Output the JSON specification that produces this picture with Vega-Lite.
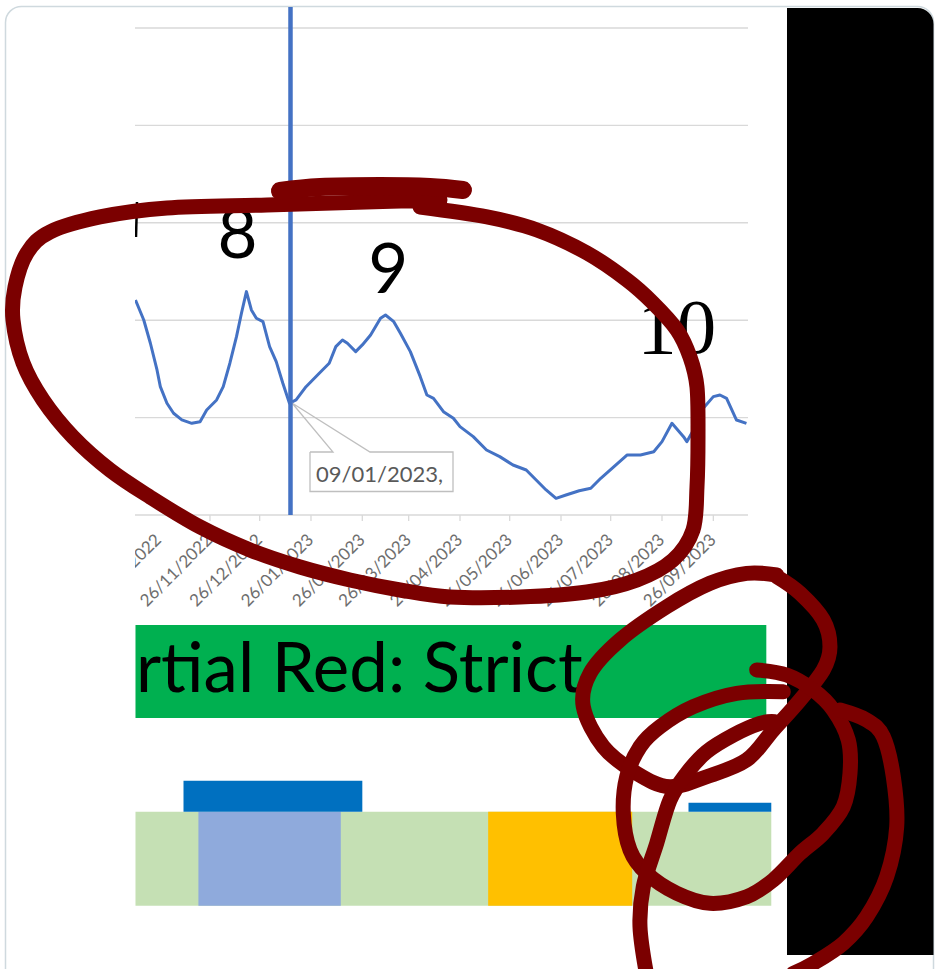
{
"$schema": "https://vega.github.io/schema/vega-lite/v6.json",
"width": 935, "height": 969, "padding": 0, "autosize": {"type": "none"},
"background": "white",
"config": {"view": {"stroke": null}},
"resolve": {"scale": {"x": "independent"}},
"layer": [
 {"layer": [
  {"data": {"values": [{"x0": -123.51, "x1": 436.98, "y0": 5.221, "y1": -5.082}]},
   "mark": {"type": "rect", "fill": "white", "stroke": "#cfd9de", "strokeWidth": 1.5, "cornerRadius": 16},
   "encoding": {"x": {"field": "x0", "type": "quantitative", "scale": {"domain": [-126.83, 437.88], "nice": false, "zero": false}, "axis": null},
     "x2": {"field": "x1"},
     "y": {"field": "y0", "type": "quantitative", "scale": {"domain": [-4.661, 5.287], "nice": false, "zero": false}, "axis": null},
     "y2": {"field": "y1"}}},
  {"data": {"values": [{"x0": 348.49, "x1": 436.98, "y0": 5.205, "y1": -4.517}]},
   "mark": {"type": "rect", "fill": "black", "cornerRadiusTopRight": 16},
   "encoding": {"x": {"field": "x0", "type": "quantitative", "scale": {"domain": [-126.83, 437.88], "nice": false, "zero": false}, "axis": null},
     "x2": {"field": "x1"},
     "y": {"field": "y0", "type": "quantitative", "scale": {"domain": [-4.661, 5.287], "nice": false, "zero": false}, "axis": null},
     "y2": {"field": "y1"}}},
  {"data": {"values": [{"v": 0, "x0": -45.3, "x1": 324.94}, {"v": 1, "x0": -45.3, "x1": 324.94}, {"v": 2, "x0": -45.3, "x1": 324.94}, {"v": 3, "x0": -45.3, "x1": 324.94}, {"v": 4, "x0": -45.3, "x1": 324.94}, {"v": 5, "x0": -45.3, "x1": 324.94}]},
   "mark": {"type": "rule", "color": "#d9d9d9", "strokeWidth": 1.4},
   "encoding": {"x": {"field": "x0", "type": "quantitative", "scale": {"domain": [-126.83, 437.88], "nice": false, "zero": false}, "axis": null},
     "x2": {"field": "x1"},
     "y": {"field": "v", "type": "quantitative", "scale": {"domain": [-4.661, 5.287], "nice": false, "zero": false}, "axis": null}}}
 ]},
 {"layer": [
  {"data": {"values": [
     {"setting": "banner", "start": "2022-10-12", "end": "2023-10-28", "y0": -1.129, "y1": -2.084},
     {"setting": "base", "start": "2022-10-12", "end": "2023-10-31", "y0": -3.046, "y1": -4.011},
     {"setting": "blue", "start": "2022-11-19", "end": "2023-02-13", "y0": -3.046, "y1": -4.011},
     {"setting": "orange", "start": "2023-05-13", "end": "2023-08-08", "y0": -3.046, "y1": -4.011},
     {"setting": "darkblue", "start": "2022-11-10", "end": "2023-02-26", "y0": -2.728, "y1": -3.046},
     {"setting": "darkblue", "start": "2023-09-11", "end": "2023-10-31", "y0": -2.954, "y1": -3.046}]},
   "mark": {"type": "rect"},
   "encoding": {"x": {"field": "start", "type": "temporal", "scale": {"type": "utc", "domain": [{"year": 2022, "month": 7, "date": 22, "hours": 4, "minutes": 5, "utc": true}, {"year": 2024, "month": 2, "date": 6, "hours": 21, "minutes": 7, "utc": true}]}, "axis": null},
     "x2": {"field": "end"},
     "y": {"field": "y0", "type": "quantitative", "scale": {"domain": [-4.661, 5.287], "nice": false, "zero": false}, "axis": null},
     "y2": {"field": "y1"},
     "color": {"field": "setting", "type": "nominal", "scale": {"domain": ["banner", "base", "blue", "orange", "darkblue"], "range": ["#00B050", "#C5E0B4", "#8FAADC", "#FFC000", "#0070C0"]}, "legend": null}}},
  {"data": {"values": [
     {"date": "2022-10-12", "value": 2.207}, {"date": "2022-10-17", "value": 2.002}, {"date": "2022-10-21", "value": 1.763}, {"date": "2022-10-25", "value": 1.489},
     {"date": "2022-10-27", "value": 1.318}, {"date": "2022-10-31", "value": 1.147}, {"date": "2022-11-04", "value": 1.044}, {"date": "2022-11-09", "value": 0.976},
     {"date": "2022-11-15", "value": 0.941}, {"date": "2022-11-20", "value": 0.958}, {"date": "2022-11-24", "value": 1.078}, {"date": "2022-11-30", "value": 1.181},
     {"date": "2022-12-04", "value": 1.317}, {"date": "2022-12-08", "value": 1.558}, {"date": "2022-12-12", "value": 1.831}, {"date": "2022-12-15", "value": 2.071},
     {"date": "2022-12-18", "value": 2.293}, {"date": "2022-12-21", "value": 2.105}, {"date": "2022-12-24", "value": 2.020}, {"date": "2022-12-28", "value": 1.985},
     {"date": "2023-01-01", "value": 1.728}, {"date": "2023-01-05", "value": 1.574}, {"date": "2023-01-09", "value": 1.352}, {"date": "2023-01-13", "value": 1.147},
     {"date": "2023-01-17", "value": 1.181}, {"date": "2023-01-23", "value": 1.317}, {"date": "2023-01-31", "value": 1.455}, {"date": "2023-02-06", "value": 1.558},
     {"date": "2023-02-10", "value": 1.728}, {"date": "2023-02-14", "value": 1.797}, {"date": "2023-02-17", "value": 1.763}, {"date": "2023-02-22", "value": 1.677},
     {"date": "2023-02-26", "value": 1.746}, {"date": "2023-03-03", "value": 1.848}, {"date": "2023-03-09", "value": 2.020}, {"date": "2023-03-12", "value": 2.053},
     {"date": "2023-03-17", "value": 1.985}, {"date": "2023-03-21", "value": 1.866}, {"date": "2023-03-27", "value": 1.677}, {"date": "2023-04-02", "value": 1.420},
     {"date": "2023-04-06", "value": 1.232}, {"date": "2023-04-10", "value": 1.198}, {"date": "2023-04-16", "value": 1.061}, {"date": "2023-04-22", "value": 0.993},
     {"date": "2023-04-26", "value": 0.907}, {"date": "2023-05-04", "value": 0.804}, {"date": "2023-05-12", "value": 0.667}, {"date": "2023-05-20", "value": 0.599},
     {"date": "2023-05-28", "value": 0.513}, {"date": "2023-06-05", "value": 0.462}, {"date": "2023-06-11", "value": 0.359}, {"date": "2023-06-17", "value": 0.257},
     {"date": "2023-06-23", "value": 0.171}, {"date": "2023-06-29", "value": 0.205}, {"date": "2023-07-07", "value": 0.249}, {"date": "2023-07-14", "value": 0.274},
     {"date": "2023-07-20", "value": 0.377}, {"date": "2023-07-28", "value": 0.496}, {"date": "2023-08-05", "value": 0.616}, {"date": "2023-08-13", "value": 0.616},
     {"date": "2023-08-21", "value": 0.650}, {"date": "2023-08-26", "value": 0.753}, {"date": "2023-09-01", "value": 0.941}, {"date": "2023-09-08", "value": 0.804},
     {"date": "2023-09-10", "value": 0.753}, {"date": "2023-09-14", "value": 0.873}, {"date": "2023-09-19", "value": 1.078}, {"date": "2023-09-26", "value": 1.215},
     {"date": "2023-09-30", "value": 1.232}, {"date": "2023-10-04", "value": 1.198}, {"date": "2023-10-10", "value": 0.975}, {"date": "2023-10-16", "value": 0.941}]},
   "mark": {"type": "line", "color": "#4472C4", "strokeWidth": 3, "strokeJoin": "round"},
   "encoding": {"x": {"field": "date", "type": "temporal", "scale": {"type": "utc", "domain": [{"year": 2022, "month": 7, "date": 22, "hours": 4, "minutes": 5, "utc": true}, {"year": 2024, "month": 2, "date": 6, "hours": 21, "minutes": 7, "utc": true}]}, "axis": null},
     "y": {"field": "value", "type": "quantitative", "scale": {"domain": [-4.661, 5.287], "nice": false, "zero": false}, "axis": null}}},
  {"data": {"values": [{"date": "2022-11-26"}, {"date": "2022-12-26"}, {"date": "2023-01-26"}, {"date": "2023-02-26"}, {"date": "2023-03-26"}, {"date": "2023-04-26"}, {"date": "2023-05-26"}, {"date": "2023-06-26"}, {"date": "2023-07-26"}, {"date": "2023-08-26"}, {"date": "2023-09-26"}]},
   "mark": {"type": "rule", "color": "#d9d9d9", "strokeWidth": 1.3},
   "encoding": {"x": {"field": "date", "type": "temporal", "scale": {"type": "utc", "domain": [{"year": 2022, "month": 7, "date": 22, "hours": 4, "minutes": 5, "utc": true}, {"year": 2024, "month": 2, "date": 6, "hours": 21, "minutes": 7, "utc": true}]}, "axis": null},
     "y": {"datum": 0, "type": "quantitative", "scale": {"domain": [-4.661, 5.287], "nice": false, "zero": false}, "axis": null},
     "y2": {"datum": -0.062}}},
  {"data": {"values": [
     {"date": "2022-10-26", "label": "26/10/2022"}, {"date": "2022-11-26", "label": "26/11/2022"}, {"date": "2022-12-26", "label": "26/12/2022"},
     {"date": "2023-01-26", "label": "26/01/2023"}, {"date": "2023-02-26", "label": "26/02/2023"}, {"date": "2023-03-26", "label": "26/03/2023"},
     {"date": "2023-04-26", "label": "26/04/2023"}, {"date": "2023-05-26", "label": "26/05/2023"}, {"date": "2023-06-26", "label": "26/06/2023"},
     {"date": "2023-07-26", "label": "26/07/2023"}, {"date": "2023-08-26", "label": "26/08/2023"}, {"date": "2023-09-26", "label": "26/09/2023"}]},
   "mark": {"type": "text", "angle": -45, "align": "right", "baseline": "middle", "font": "Lato", "fontSize": 17, "fill": "#6e6e6e"},
   "encoding": {"x": {"field": "date", "type": "temporal", "scale": {"type": "utc", "domain": [{"year": 2022, "month": 7, "date": 22, "hours": 4, "minutes": 5, "utc": true}, {"year": 2024, "month": 2, "date": 6, "hours": 21, "minutes": 7, "utc": true}]}, "axis": null},
     "y": {"datum": -0.23, "type": "quantitative", "scale": {"domain": [-4.661, 5.287], "nice": false, "zero": false}, "axis": null},
     "text": {"field": "label"}}}
 ]},
 {"layer": [
  {"data": {"values": [{"x0": 60.40, "x1": 146.77, "y0": 0.6468, "y1": 0.2413}]},
   "mark": {"type": "rect", "fill": "white"},
   "encoding": {"x": {"field": "x0", "type": "quantitative", "scale": {"domain": [-126.83, 437.88], "nice": false, "zero": false}, "axis": null},
     "x2": {"field": "x1"},
     "y": {"field": "y0", "type": "quantitative", "scale": {"domain": [-4.661, 5.287], "nice": false, "zero": false}, "axis": null},
     "y2": {"field": "y1"}}},
  {"data": {"values": [{"i": 0, "d": 60.40, "v": 0.6468}, {"i": 1, "d": 74.29, "v": 0.6468}, {"i": 2, "d": 49.53, "v": 1.1499}, {"i": 3, "d": 96.64, "v": 0.6468}, {"i": 4, "d": 146.77, "v": 0.6468}, {"i": 5, "d": 146.77, "v": 0.2413}, {"i": 6, "d": 60.40, "v": 0.2413}, {"i": 7, "d": 60.40, "v": 0.6468}]},
   "mark": {"type": "line", "color": "#bfbfbf", "strokeWidth": 1.3},
   "encoding": {"x": {"field": "d", "type": "quantitative", "scale": {"domain": [-126.83, 437.88], "nice": false, "zero": false}, "axis": null},
     "y": {"field": "v", "type": "quantitative", "scale": {"domain": [-4.661, 5.287], "nice": false, "zero": false}, "axis": null},
     "order": {"field": "i"}}},
  {"data": {"values": [{"d": 64.02, "v": 0.3388, "label": "09/01/2023,"}]},
   "mark": {"type": "text", "align": "left", "baseline": "alphabetic", "font": "Lato", "fontSize": 22, "fill": "#595959"},
   "encoding": {"x": {"field": "d", "type": "quantitative", "scale": {"domain": [-126.83, 437.88], "nice": false, "zero": false}, "axis": null},
     "y": {"field": "v", "type": "quantitative", "scale": {"domain": [-4.661, 5.287], "nice": false, "zero": false}, "axis": null},
     "text": {"field": "label"}}},
  {"data": {"values": [{"d": 48.62, "y0": 5.216, "y1": 0}]},
   "mark": {"type": "rule", "color": "#4472C4", "strokeWidth": 4.5},
   "encoding": {"x": {"field": "d", "type": "quantitative", "scale": {"domain": [-126.83, 437.88], "nice": false, "zero": false}, "axis": null},
     "y": {"field": "y0", "type": "quantitative", "scale": {"domain": [-4.661, 5.287], "nice": false, "zero": false}, "axis": null},
     "y2": {"field": "y1"}}},
  {"data": {"values": [{"d": 281.87, "v": 1.660, "label": "10"}]},
   "mark": {"type": "text", "align": "center", "baseline": "alphabetic", "font": "Liberation Serif", "fontSize": 79, "fill": "black"},
   "encoding": {"x": {"field": "d", "type": "quantitative", "scale": {"domain": [-126.83, 437.88], "nice": false, "zero": false}, "axis": null},
     "y": {"field": "v", "type": "quantitative", "scale": {"domain": [-4.661, 5.287], "nice": false, "zero": false}, "axis": null},
     "text": {"field": "label"}}},
  {"data": {"values": [{"d": -44.69, "v": -1.814, "label": "rtial Red: Strict"}, {"d": 4.5, "v": 2.636, "label": "8"}, {"d": 95.6, "v": 2.276, "label": "9"}]},
   "mark": {"type": "text", "align": "left", "baseline": "alphabetic", "font": "Lato", "fontSize": 69, "fontWeight": "normal", "fill": "black"},
   "encoding": {"x": {"field": "d", "type": "quantitative", "scale": {"domain": [-126.83, 437.88], "nice": false, "zero": false}, "axis": null},
     "y": {"field": "v", "type": "quantitative", "scale": {"domain": [-4.661, 5.287], "nice": false, "zero": false}, "axis": null},
     "text": {"field": "label", "type": "nominal"}}},
  {"data": {"values": [{"i": 0, "d": -44.09, "v": 3.214}, {"i": 1, "d": -44.69, "v": 2.854}]},
   "mark": {"type": "line", "color": "black", "strokeWidth": 2.5},
   "encoding": {"x": {"field": "d", "type": "quantitative", "scale": {"domain": [-126.83, 437.88], "nice": false, "zero": false}, "axis": null},
     "y": {"field": "v", "type": "quantitative", "scale": {"domain": [-4.661, 5.287], "nice": false, "zero": false}, "axis": null},
     "order": {"field": "i"}}},
  {"data": {"values": [{"x0": -122.61, "x1": -45.30, "y0": 4.979, "y1": -4.651}]},
   "mark": {"type": "rect", "fill": "white"},
   "encoding": {"x": {"field": "x0", "type": "quantitative", "scale": {"domain": [-126.83, 437.88], "nice": false, "zero": false}, "axis": null},
     "x2": {"field": "x1"},
     "y": {"field": "y0", "type": "quantitative", "scale": {"domain": [-4.661, 5.287], "nice": false, "zero": false}, "axis": null},
     "y2": {"field": "y1"}}},
  {"data": {"values": [
     {"s": "ellipse", "i": 0, "d": 126.83, "v": 3.162}, {"s": "ellipse", "i": 1, "d": 167.30, "v": 3.060}, {"s": "ellipse", "i": 2, "d": 197.50, "v": 2.926},
     {"s": "ellipse", "i": 3, "d": 227.70, "v": 2.690}, {"s": "ellipse", "i": 4, "d": 251.86, "v": 2.413}, {"s": "ellipse", "i": 5, "d": 267.56, "v": 2.177},
     {"s": "ellipse", "i": 6, "d": 282.06, "v": 1.900}, {"s": "ellipse", "i": 7, "d": 289.91, "v": 1.622}, {"s": "ellipse", "i": 8, "d": 294.13, "v": 1.314},
     {"s": "ellipse", "i": 9, "d": 294.74, "v": 0.801}, {"s": "ellipse", "i": 10, "d": 294.13, "v": 0.287}, {"s": "ellipse", "i": 11, "d": 291.72, "v": -0.154},
     {"s": "ellipse", "i": 12, "d": 279.64, "v": -0.462}, {"s": "ellipse", "i": 13, "d": 257.90, "v": -0.667}, {"s": "ellipse", "i": 14, "d": 227.70, "v": -0.791},
     {"s": "ellipse", "i": 15, "d": 187.23, "v": -0.842}, {"s": "ellipse", "i": 16, "d": 144.95, "v": -0.842}, {"s": "ellipse", "i": 17, "d": 114.75, "v": -0.770},
     {"s": "ellipse", "i": 18, "d": 84.56, "v": -0.667}, {"s": "ellipse", "i": 19, "d": 54.36, "v": -0.534}, {"s": "ellipse", "i": 20, "d": 24.16, "v": -0.359},
     {"s": "ellipse", "i": 21, "d": -6.04, "v": -0.123}, {"s": "ellipse", "i": 22, "d": -36.24, "v": 0.185}, {"s": "ellipse", "i": 23, "d": -60.40, "v": 0.462},
     {"s": "ellipse", "i": 24, "d": -82.74, "v": 0.801}, {"s": "ellipse", "i": 25, "d": -100.86, "v": 1.181}, {"s": "ellipse", "i": 26, "d": -112.94, "v": 1.561},
     {"s": "ellipse", "i": 27, "d": -118.98, "v": 2.002}, {"s": "ellipse", "i": 28, "d": -117.77, "v": 2.341}, {"s": "ellipse", "i": 29, "d": -110.53, "v": 2.690},
     {"s": "ellipse", "i": 30, "d": -96.64, "v": 2.906}, {"s": "ellipse", "i": 31, "d": -66.44, "v": 3.060}, {"s": "ellipse", "i": 32, "d": -25.97, "v": 3.152},
     {"s": "ellipse", "i": 33, "d": 34.43, "v": 3.183}, {"s": "ellipse", "i": 34, "d": 94.22, "v": 3.214}, {"s": "ellipse", "i": 35, "d": 138.91, "v": 3.234},
     {"s": "loop1", "i": 0, "d": 342.27, "v": -0.616}, {"s": "loop1", "i": 1, "d": 324.15, "v": -0.599}, {"s": "loop1", "i": 2, "d": 301.97, "v": -0.701},
     {"s": "loop1", "i": 3, "d": 275.83, "v": -0.942}, {"s": "loop1", "i": 4, "d": 247.63, "v": -1.283}, {"s": "loop1", "i": 5, "d": 229.51, "v": -1.625},
     {"s": "loop1", "i": 6, "d": 225.46, "v": -1.968}, {"s": "loop1", "i": 7, "d": 237.54, "v": -2.379}, {"s": "loop1", "i": 8, "d": 257.71, "v": -2.652},
     {"s": "loop1", "i": 9, "d": 277.67, "v": -2.790}, {"s": "loop1", "i": 10, "d": 299.99, "v": -2.687}, {"s": "loop1", "i": 11, "d": 324.15, "v": -2.515},
     {"s": "loop1", "i": 12, "d": 340.21, "v": -2.207}, {"s": "loop1", "i": 13, "d": 356.38, "v": -1.899}, {"s": "loop1", "i": 14, "d": 370.41, "v": -1.591},
     {"s": "loop1", "i": 15, "d": 374.45, "v": -1.352}, {"s": "loop1", "i": 16, "d": 370.41, "v": -1.078}, {"s": "loop1", "i": 17, "d": 356.38, "v": -0.804},
     {"s": "loop1", "i": 18, "d": 342.27, "v": -0.633},
     {"s": "loop2", "i": 0, "d": 330.19, "v": -1.591}, {"s": "loop2", "i": 1, "d": 348.31, "v": -1.643}, {"s": "loop2", "i": 2, "d": 364.38, "v": -1.797},
     {"s": "loop2", "i": 3, "d": 376.46, "v": -2.002}, {"s": "loop2", "i": 4, "d": 385.51, "v": -2.310}, {"s": "loop2", "i": 5, "d": 386.54, "v": -2.652},
     {"s": "loop2", "i": 6, "d": 382.49, "v": -2.995}, {"s": "loop2", "i": 7, "d": 370.41, "v": -3.268}, {"s": "loop2", "i": 8, "d": 356.38, "v": -3.473},
     {"s": "loop2", "i": 9, "d": 340.21, "v": -3.747}, {"s": "loop2", "i": 10, "d": 324.15, "v": -3.919}, {"s": "loop2", "i": 11, "d": 301.97, "v": -3.987},
     {"s": "loop2", "i": 12, "d": 281.87, "v": -3.884}, {"s": "loop2", "i": 13, "d": 263.75, "v": -3.679}, {"s": "loop2", "i": 14, "d": 253.67, "v": -3.439},
     {"s": "loop2", "i": 15, "d": 249.62, "v": -3.063}, {"s": "loop2", "i": 16, "d": 251.67, "v": -2.687}, {"s": "loop2", "i": 17, "d": 259.71, "v": -2.379},
     {"s": "loop2", "i": 18, "d": 271.79, "v": -2.174}, {"s": "loop2", "i": 19, "d": 291.90, "v": -1.968}, {"s": "loop2", "i": 20, "d": 318.11, "v": -1.831},
     {"s": "loop2", "i": 21, "d": 346.26, "v": -1.814},
     {"s": "stem", "i": 0, "d": 263.75, "v": -4.723}, {"s": "stem", "i": 1, "d": 259.71, "v": -4.227}, {"s": "stem", "i": 2, "d": 261.70, "v": -3.816},
     {"s": "stem", "i": 3, "d": 269.79, "v": -3.371}, {"s": "stem", "i": 4, "d": 277.83, "v": -2.926}, {"s": "stem", "i": 5, "d": 287.91, "v": -2.652},
     {"s": "stem", "i": 6, "d": 299.99, "v": -2.430}, {"s": "stem", "i": 7, "d": 316.06, "v": -2.259}, {"s": "stem", "i": 8, "d": 332.18, "v": -2.139},
     {"s": "stem", "i": 9, "d": 341.24, "v": -2.122},
     {"s": "outer", "i": 0, "d": 380.50, "v": -2.002}, {"s": "outer", "i": 1, "d": 396.63, "v": -2.105}, {"s": "outer", "i": 2, "d": 406.66, "v": -2.276},
     {"s": "outer", "i": 3, "d": 412.69, "v": -2.687}, {"s": "outer", "i": 4, "d": 414.75, "v": -3.200}, {"s": "outer", "i": 5, "d": 408.71, "v": -3.713},
     {"s": "outer", "i": 6, "d": 396.63, "v": -4.124}, {"s": "outer", "i": 7, "d": 382.49, "v": -4.397}, {"s": "outer", "i": 8, "d": 364.38, "v": -4.603},
     {"s": "outer", "i": 9, "d": 352.30, "v": -4.705}]},
   "mark": {"type": "line", "color": "#7b0000", "strokeWidth": 15, "strokeCap": "round", "strokeJoin": "round", "interpolate": "cardinal"},
   "encoding": {"x": {"field": "d", "type": "quantitative", "scale": {"domain": [-126.83, 437.88], "nice": false, "zero": false}, "axis": null},
     "y": {"field": "v", "type": "quantitative", "scale": {"domain": [-4.661, 5.287], "nice": false, "zero": false}, "axis": null},
     "detail": {"field": "s"},
     "order": {"field": "i"}}},
  {"data": {"values": [{"i": 0, "d": 42.28, "v": 3.327}, {"i": 1, "d": 66.44, "v": 3.368}, {"i": 2, "d": 102.67, "v": 3.378}, {"i": 3, "d": 132.87, "v": 3.368}, {"i": 4, "d": 152.80, "v": 3.337}]},
   "mark": {"type": "line", "color": "#7b0000", "strokeWidth": 18, "strokeCap": "round", "strokeJoin": "round", "interpolate": "cardinal"},
   "encoding": {"x": {"field": "d", "type": "quantitative", "scale": {"domain": [-126.83, 437.88], "nice": false, "zero": false}, "axis": null},
     "y": {"field": "v", "type": "quantitative", "scale": {"domain": [-4.661, 5.287], "nice": false, "zero": false}, "axis": null},
     "order": {"field": "i"}}}
 ]}
]
}
